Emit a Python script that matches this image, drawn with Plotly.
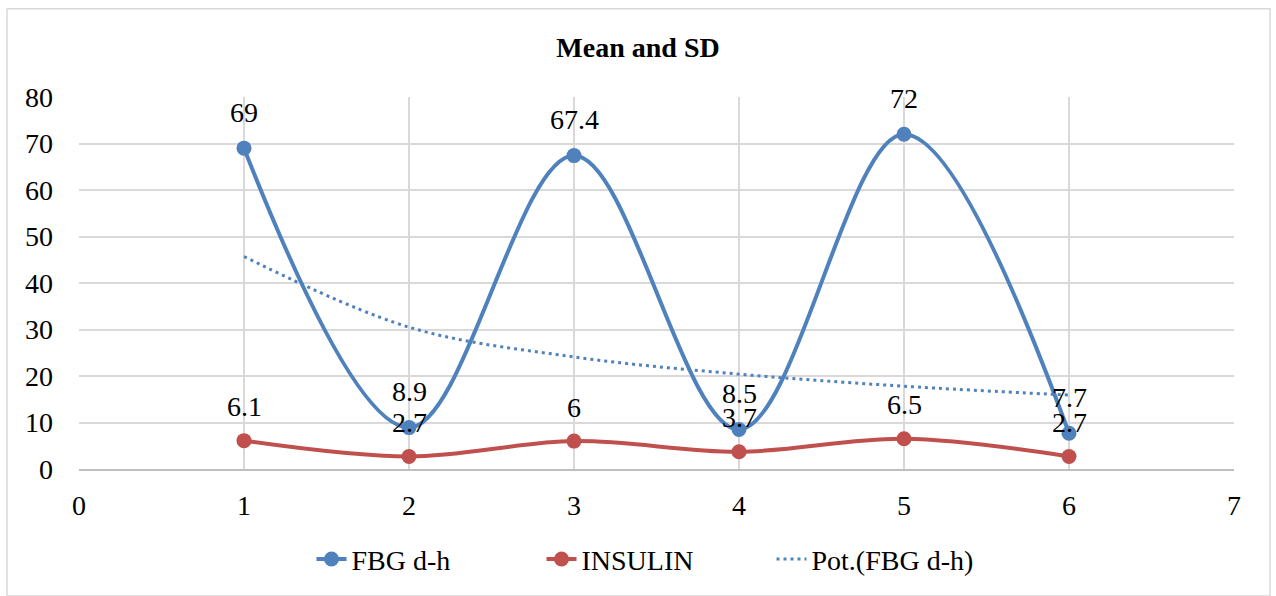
import plotly.graph_objects as go

x_vals = [1, 2, 3, 4, 5, 6]
fbg = [69, 8.9, 67.4, 8.5, 72, 7.7]
insulin = [6.1, 2.7, 6, 3.7, 6.5, 2.7]
trend_fbg = [45.7, 30.5, 24.1, 20.4, 17.8, 15.9]
fbg_labels = ["69", "8.9", "67.4", "8.5", "72", "7.7"]
ins_labels = ["6.1", "2.7", "6", "3.7", "6.5", "2.7"]

BLUE = "#4F81BD"
RED = "#C0504D"
FONT = "Liberation Serif, Times New Roman, serif"
FS = 28

fig = go.Figure()
fig.add_trace(go.Scatter(x=x_vals, y=trend_fbg, mode="lines", name="Pot.(FBG d-h)",
                         line=dict(color=BLUE, width=3, dash="3px,4px", shape="spline", smoothing=1),
                         showlegend=True, legendrank=3))
fig.add_trace(go.Scatter(x=x_vals, y=fbg, mode="lines+markers", name="FBG d-h",
                         line=dict(color=BLUE, width=4, shape="spline", smoothing=1),
                         marker=dict(size=15, color=BLUE), legendrank=1))
fig.add_trace(go.Scatter(x=x_vals, y=insulin, mode="lines+markers", name="INSULIN",
                         line=dict(color=RED, width=4, shape="spline", smoothing=1),
                         marker=dict(size=15, color=RED), legendrank=2))

for xv, yv, t in zip(x_vals, fbg, fbg_labels):
    fig.add_annotation(x=xv, y=yv, text=t, showarrow=False, yshift=36,
                       font=dict(family=FONT, size=FS, color="black"))
for xv, yv, t in zip(x_vals, insulin, ins_labels):
    fig.add_annotation(x=xv, y=yv, text=t, showarrow=False, yshift=34,
                       font=dict(family=FONT, size=FS, color="black"))

fig.add_shape(type="rect", xref="paper", yref="paper",
              x0=(7 - 79) / 1155, x1=(1270 - 79) / 1155,
              y0=(472 - 600) / 375, y1=(472 - 8) / 375,
              line=dict(color="#d9d9d9", width=1.5), fillcolor="rgba(0,0,0,0)", layer="below")

fig.update_layout(
    width=1276, height=596,
    margin=dict(l=79, r=42, t=97, b=124),
    paper_bgcolor="white", plot_bgcolor="white",
    font=dict(family=FONT, size=FS, color="black"),
    title=dict(text="<b>Mean and SD</b>", x=0.5, xref="container", y=1 - 47 / 596,
               yanchor="middle", xanchor="center",
               font=dict(family=FONT, size=28, color="black")),
    legend=dict(orientation="h", x=0.5, xanchor="center", y=(472 - 563) / 375, yanchor="middle",
                font=dict(family=FONT, size=FS), traceorder="normal",
                entrywidth=185, entrywidthmode="pixels"),
    showlegend=True,
)
fig.update_xaxes(range=[0, 7], dtick=1, tick0=0, showgrid=True, gridcolor="#d9d9d9", gridwidth=1.5,
                 showline=True, linecolor="#bfbfbf", linewidth=1.5, zeroline=False,
                 ticks="", ticklabelstandoff=11, tickfont=dict(family=FONT, size=FS))
fig.update_yaxes(range=[0, 80], dtick=10, tick0=0, showgrid=True, gridcolor="#d9d9d9", gridwidth=1.5,
                 showline=False, zeroline=False, ticks="", ticklabelstandoff=25,
                 tickfont=dict(family=FONT, size=FS))

fig.write_html("out.html")
